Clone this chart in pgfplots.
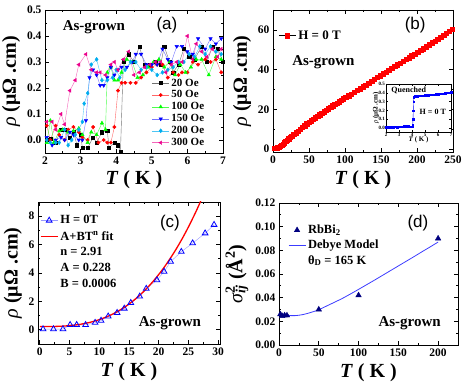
\documentclass[border=0pt]{standalone}
\usepackage{pgfplots}
\pgfplotsset{compat=1.18}
\usepackage{fontspec}
\setmainfont{Liberation Serif}
\newfontfamily\arialfont{Liberation Sans}
\definecolor{navy}{RGB}{0,0,128}
\definecolor{dblue}{RGB}{60,60,255}
\pgfplotsset{
  panel/.style={
    scale only axis,
    tick align=inside,
    axis line style={line width=0.9pt},
    major tick length=4pt, minor tick length=2pt,
    every tick/.style={line width=0.7pt, black},
    ticklabel style={font=\bfseries\fontsize{11.5}{12}\selectfont},
    /pgf/number format/assume math mode=true,
    label style={font=\bfseries\fontsize{20}{22}\selectfont},
    minor x tick num=1, minor y tick num=1,
    legend cell align=left,
  },
}
\newcommand{\rholabel}{\textit{\mdseries ρ} (μΩ .cm)}
\newcommand{\Tlabel}{\textit{T} ( K )}
\begin{document}
\begin{tikzpicture}[x=1pt,y=1pt]
\useasboundingbox (0,0) rectangle (463,385);
% ---------------- (a)
\begin{axis}[panel, at={(45pt,232pt)}, anchor=south west, width=178pt, height=143pt,
  xmin=2, xmax=7, ymin=-0.05, ymax=0.5, xtick={2,3,4,5,6,7}, ytick={0,0.1,0.2,0.3,0.4,0.5},
  yticklabel style={/pgf/number format/.cd, fixed, fixed zerofill, precision=1},
  xlabel={\Tlabel}, ylabel={\rholabel},
  legend style={at={(0.6,0.535)}, anchor=north west, draw=none, fill=none,
    font=\bfseries\fontsize{11}{12}\selectfont, row sep=-0.9pt, inner sep=0pt}]
\addplot[draw=black!55, line width=0.4pt, mark=square*, mark size=1.6pt, mark options={fill=black, draw=black}] coordinates {
(2.05,0.00)(2.15,0.005)(2.3,-0.01)(2.45,0.04)(2.55,0.04)(2.7,0.01)(2.8,0.03)(2.9,-0.02)(3.0,0.02)(3.05,-0.03)(3.2,-0.03)(3.35,0.01)(3.45,-0.01)(3.6,0.03)(3.75,0.035)(3.8,-0.03)(3.95,-0.01)(4.05,-0.02)(4.12,-0.045)(4.2,0.30)(4.35,0.33)(4.5,0.30)(4.65,0.36)(4.8,0.29)(4.95,0.29)(5.1,0.30)(5.25,0.29)(5.35,0.36)(5.5,0.30)(5.6,0.26)(5.75,0.29)(5.9,0.35)(6.05,0.32)(6.2,0.31)(6.4,0.36)(6.55,0.30)(6.7,0.36)(6.85,0.35)(7.0,0.30)};
\addlegendentry{20 Oe}
\addplot[draw=red!60, line width=0.4pt, mark=*, mark size=1.7pt, mark options={fill=red, draw=red}] coordinates {
(2.05,0.055)(2.15,0.0)(2.3,0.055)(2.4,0.02)(2.55,0.0)(2.65,0.04)(2.8,0.05)(2.95,0.03)(3.05,0.01)(3.2,0.0)(3.35,0.05)(3.5,-0.01)(3.65,0.0)(3.75,-0.01)(3.85,-0.01)(3.95,0.05)(4.05,0.19)(4.15,0.22)(4.25,0.22)(4.4,0.22)(4.55,0.22)(4.7,0.24)(4.85,0.26)(5.0,0.28)(5.15,0.29)(5.3,0.29)(5.45,0.24)(5.6,0.26)(5.75,0.25)(5.85,0.26)(6.0,0.26)(6.15,0.30)(6.3,0.29)(6.5,0.31)(6.65,0.30)(6.8,0.31)(6.95,0.26)};
\addlegendentry{50 Oe}
\addplot[draw=green!70, line width=0.4pt, mark=triangle*, mark size=2pt, mark options={fill=green, draw=green}] coordinates {
(2.05,-0.01)(2.15,0.075)(2.25,-0.01)(2.4,0.035)(2.5,0.04)(2.65,0.03)(2.8,0.035)(2.95,0.045)(3.05,0.02)(3.2,-0.01)(3.3,0.03)(3.45,0.02)(3.6,0.065)(3.7,0.04)(3.75,0.26)(3.85,0.28)(3.95,0.23)(4.05,0.23)(4.15,0.26)(4.3,0.31)(4.45,0.30)(4.6,0.24)(4.75,0.25)(4.9,0.28)(5.05,0.30)(5.2,0.31)(5.35,0.28)(5.5,0.30)(5.65,0.25)(5.8,0.29)(5.95,0.26)(6.1,0.28)(6.25,0.31)(6.4,0.31)(6.6,0.25)(6.8,0.32)(6.95,0.31)};
\addlegendentry{100 Oe}
\addplot[draw=blue!55, line width=0.4pt, mark=triangle*, mark size=2pt, mark options={fill=blue, draw=blue, rotate=180}] coordinates {
(2.05,0.01)(2.2,-0.02)(2.3,0.0)(2.45,0.01)(2.55,0.0)(2.7,0.03)(2.8,0.02)(2.95,0.0)(3.05,0.0)(3.15,0.075)(3.25,0.24)(3.35,0.27)(3.45,0.25)(3.55,0.21)(3.65,0.21)(3.75,0.24)(3.85,0.28)(3.95,0.25)(4.05,0.27)(4.15,0.28)(4.3,0.28)(4.45,0.30)(4.55,0.33)(4.7,0.33)(4.85,0.29)(5.0,0.29)(5.15,0.29)(5.3,0.35)(5.45,0.31)(5.55,0.30)(5.7,0.36)(5.85,0.36)(6.0,0.34)(6.15,0.33)(6.3,0.39)(6.5,0.35)(6.65,0.39)(6.8,0.37)(6.95,0.39)};
\addlegendentry{150 Oe}
\addplot[draw=cyan!70, line width=0.4pt, mark=diamond*, mark size=2pt, mark options={fill=cyan, draw=cyan}] coordinates {
(2.05,0.0)(2.15,-0.01)(2.3,-0.01)(2.4,-0.01)(2.55,0.04)(2.65,-0.02)(2.75,0.0)(2.85,0.02)(2.95,0.04)(3.05,0.07)(3.1,0.14)(3.2,0.18)(3.3,0.29)(3.45,0.31)(3.6,0.23)(3.75,0.23)(3.9,0.24)(4.0,0.27)(4.1,0.24)(4.25,0.27)(4.4,0.30)(4.55,0.30)(4.7,0.27)(4.85,0.28)(5.0,0.27)(5.15,0.25)(5.3,0.26)(5.45,0.27)(5.6,0.28)(5.75,0.30)(5.9,0.30)(6.05,0.33)(6.2,0.32)(6.35,0.36)(6.5,0.33)(6.65,0.36)(6.8,0.34)(6.95,0.33)};
\addlegendentry{200 Oe}
\addplot[draw=magenta!60, line width=0.4pt, mark=triangle*, mark size=2pt, mark options={fill=magenta, draw=magenta, rotate=90}] coordinates {
(2.05,0.07)(2.2,0.07)(2.3,0.04)(2.45,0.10)(2.55,0.06)(2.7,0.19)(2.85,0.23)(2.95,0.29)(3.15,0.33)(3.3,0.27)(3.45,0.26)(3.55,0.26)(3.7,0.25)(3.85,0.29)(3.95,0.30)(4.05,0.27)(4.2,0.31)(4.35,0.34)(4.5,0.25)(4.65,0.26)(4.8,0.28)(4.95,0.29)(5.1,0.30)(5.25,0.30)(5.4,0.26)(5.55,0.29)(5.7,0.30)(5.85,0.30)(6.0,0.40)(6.15,0.31)(6.25,0.37)(6.4,0.34)(6.55,0.32)(6.7,0.35)(6.85,0.32)(6.95,0.35)};
\addlegendentry{300 Oe}
\node[font=\bfseries\fontsize{15}{16}\selectfont] at (rel axis cs:0.275,0.88) {As-grown};
\node[font=\arialfont\fontsize{17}{18}\selectfont] at (rel axis cs:0.685,0.895) {(a)};
\end{axis}
% ---------------- (b)
\begin{axis}[panel, at={(273pt,233pt)}, anchor=south west, width=180pt, height=142pt,
  xmin=0, xmax=250, ymin=-1.5, ymax=70, xtick={0,50,100,150,200,250}, ytick={0,20,40,60},
  xlabel={\Tlabel}, ylabel={\rholabel},
  legend style={at={(0.03,0.87)}, anchor=north west, draw=none, fill=none,
    font=\bfseries\fontsize{13}{14}\selectfont, inner sep=0pt}]
\addplot[draw=black, line width=0.6pt, mark=square*, mark size=2.2pt, mark options={fill=red, draw=red}] coordinates {
(2,0.3)(4,0.4)(6,0.6)(8,0.9)(10,1.3)(12,1.9)(14,2.5)(16,3.1)(18,3.8)(20,4.5)(22,5.1)(24,5.8)(26,6.4)(29,7.3)(32,8.2)(35,9.0)(38,9.9)(41,10.8)(44,11.7)(47,12.6)(50,13.4)(53,14.2)(56,15.0)(59,15.8)(62,16.5)(65,17.3)(68,18.1)(71,18.8)(74,19.6)(77,20.3)(80,21.0)(83,21.7)(86,22.4)(89,23.1)(92,23.8)(95,24.5)(98,25.2)(101,25.9)(105,26.8)(109,27.7)(113,28.6)(117,29.5)(121,30.4)(125,31.3)(129,32.2)(133,33.1)(137,34.0)(141,35.0)(145,36.0)(149,36.9)(153,37.8)(157,38.7)(161,39.6)(165,40.6)(169,41.5)(173,42.4)(177,43.3)(181,44.2)(185,45.1)(189,46.0)(193,46.9)(197,47.8)(201,48.7)(205,49.6)(209,50.5)(213,51.5)(217,52.4)(221,53.4)(225,54.3)(229,55.3)(233,56.2)(237,57.2)(241,58.2)(245,59.2)(249,60.2)};
\addlegendentry{H = 0 T}
\node[font=\bfseries\fontsize{15}{16}\selectfont] at (rel axis cs:0.28,0.634) {As-grown};
\node[font=\arialfont\fontsize{17}{18}\selectfont] at (rel axis cs:0.79,0.894) {(b)};
\end{axis}
% ---------------- inset
\begin{axis}[panel, at={(386pt,253pt)}, anchor=south west, width=65pt, height=48pt,
  axis background/.style={fill=white},
  axis line style={line width=0.5pt}, major tick length=2pt, minor tick length=1pt,
  every tick/.style={line width=0.4pt, black}, minor x tick num=0, minor y tick num=0,
  xmin=2, xmax=7, ymin=-0.045, ymax=0.5, xtick={2,3,4,5,6,7}, ytick={0,0.1,0.2,0.3,0.4,0.5},
  ticklabel style={font=\bfseries\fontsize{5}{5}\selectfont, inner sep=1pt},
  yticklabel style={/pgf/number format/.cd, fixed, fixed zerofill, precision=1},
  label style={font=\bfseries\fontsize{7}{7}\selectfont},
  xlabel={\Tlabel}, ylabel={\rholabel},
  xlabel style={yshift=4pt}, ylabel style={yshift=-5pt}]
\addplot[draw=blue, line width=0.4pt, mark=square*, mark size=0.7pt, mark options={fill=blue, draw=blue}] coordinates {
(2.0,0.010)(2.1,0.012)(2.2,0.010)(2.3,0.012)(2.4,0.010)(2.5,0.011)(2.6,0.010)(2.7,0.012)(2.8,0.010)(2.9,0.011)(3.0,0.012)(3.1,0.013)(3.2,0.012)(3.3,0.018)(3.4,0.020)(3.5,0.020)(3.6,0.022)(3.7,0.020)(3.8,0.015)(3.9,0.014)(4.0,0.015)(4.05,0.03)(4.08,0.10)(4.1,0.20)(4.12,0.30)(4.15,0.35)(4.2,0.360)(4.3,0.362)(4.4,0.363)(4.5,0.364)(4.6,0.366)(4.7,0.366)(4.8,0.368)(4.9,0.369)(5.0,0.371)(5.1,0.372)(5.2,0.373)(5.3,0.375)(5.4,0.376)(5.5,0.378)(5.6,0.379)(5.7,0.381)(5.8,0.383)(5.9,0.384)(6.0,0.386)(6.1,0.388)(6.2,0.390)(6.3,0.391)(6.4,0.393)(6.5,0.395)(6.6,0.397)(6.7,0.399)(6.8,0.401)(6.9,0.403)(7.0,0.405)};
\node[font=\bfseries\fontsize{8}{8}\selectfont, anchor=west] at (rel axis cs:0.03,0.86) {Quenched};
\node[font=\bfseries\fontsize{8}{8}\selectfont] at (rel axis cs:0.72,0.42) {H = 0 T};
\end{axis}
% ---------------- (c)
\begin{axis}[panel, at={(38pt,41pt)}, anchor=south west, width=182pt, height=142pt,
  xmin=-0.3, xmax=30.3, ymin=-1, ymax=9, xtick={0,5,10,15,20,25,30}, ytick={0,2,4,6,8},
  xlabel={\Tlabel}, ylabel={\rholabel},
  legend style={at={(0.01,0.92)}, anchor=north west, draw=none, fill=none,
    font=\bfseries\fontsize{12.5}{13}\selectfont, inner sep=0pt, row sep=2pt}]
\addplot[draw=blue!40, line width=0.4pt, mark=triangle, mark size=3.3pt, mark options={draw=blue, line width=0.8pt, fill=none}] coordinates {
(0.55,0.05)(2.3,0.05)(3.9,0.05)(5.1,0.35)(6.2,0.35)(7.7,0.35)(9.3,0.5)(10.3,0.65)(11.5,0.95)(13.0,1.2)(14.2,1.5)(15.3,1.9)(16.8,2.35)(17.9,2.9)(19.7,3.5)(20.9,4.1)(22.0,4.8)(23.8,5.5)(25.7,6.1)(27.8,6.8)(29.3,7.4)};
\addlegendentry{H = 0T}
\addplot[red, line width=1.3pt, smooth] coordinates {
(0,0.228)(1,0.229)(2,0.233)(3,0.243)(4,0.262)(5,0.293)(6,0.338)(7,0.401)(8,0.483)(9,0.587)(10,0.716)(11,0.872)(12,1.057)(13,1.274)(14,1.526)(15,1.815)(16,2.143)(17,2.512)(18,2.927)(19,3.386)(20,3.896)(21,4.454)(22,5.069)(23,5.734)(24,6.460)(25,7.248)(26,8.096)(26.5,8.544)(27,9.012)(28,9.99)};
\addlegendentry{A+BT\textsuperscript{n} fit}
\addlegendimage{empty legend}\addlegendentry{n = 2.91}
\addlegendimage{empty legend}\addlegendentry{A = 0.228}
\addlegendimage{empty legend}\addlegendentry{B = 0.0006}
\node[font=\bfseries\fontsize{15}{16}\selectfont] at (rel axis cs:0.725,0.148) {As-grown};
\node[font=\arialfont\fontsize{17}{18}\selectfont] at (rel axis cs:0.725,0.852) {(c)};
\end{axis}
% ---------------- (d)
\begin{axis}[panel, at={(279pt,40pt)}, anchor=south west, width=179pt, height=142pt,
  xmin=0, xmax=225, ymin=0, ymax=0.12, xtick={0,50,100,150,200}, ytick={0,0.02,0.04,0.06,0.08,0.10,0.12},
  yticklabel style={/pgf/number format/.cd, fixed, fixed zerofill, precision=2},
  xlabel={\Tlabel}, ylabel={\textit{\mdseries σ}\rlap{\textsuperscript{2}}\textsubscript{\textit{ij}} (Å\textsuperscript{2})},
  legend style={at={(0.05,0.86)}, anchor=north west, draw=none, fill=none,
    font=\bfseries\fontsize{12.5}{13}\selectfont, inner sep=0pt, row sep=1pt}]
\addplot[only marks, mark=triangle*, mark size=3.2pt, color=navy] coordinates {
(1.7,0.026)(4,0.0245)(7,0.025)(10,0.025)(50,0.030)(100,0.042)(200,0.090)};
\addlegendentry{RbBi\textsubscript{2}}
\addplot[dblue, line width=0.8pt, smooth] coordinates {
(0,0.0255)(10,0.0250)(20,0.0248)(30,0.0257)(40,0.0275)(50,0.0298)(60,0.0330)(70,0.0362)(80,0.0395)(90,0.0432)(100,0.0470)(110,0.0509)(120,0.0548)(130,0.0588)(140,0.0628)(150,0.0668)(160,0.0708)(170,0.0748)(180,0.0789)(190,0.0829)(200,0.0870)};
\addlegendentry{Debye Model}
\addlegendimage{empty legend}\addlegendentry{θ\textsubscript{D} = 165 K}
\node[font=\bfseries\fontsize{15}{16}\selectfont] at (rel axis cs:0.73,0.155) {As-grown};
\node[font=\arialfont\fontsize{17}{18}\selectfont] at (rel axis cs:0.776,0.86) {(d)};
\end{axis}
\end{tikzpicture}
\end{document}
